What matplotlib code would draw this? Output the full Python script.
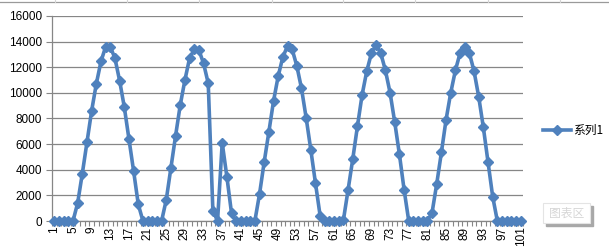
import matplotlib
matplotlib.use("Agg")
import matplotlib.pyplot as plt
from matplotlib.patches import Rectangle
from matplotlib.lines import Line2D

# series values, categories 1..101
values = [0, 0, 0, 0, 0, 1400, 3700, 6150, 8600, 10700,
          12450, 13600, 13600, 12700, 10950, 8900, 6400, 3900, 1300, 0,
          0, 0, 0, 0, 1650, 4150, 6650, 9050, 11000, 12700,
          13400, 13350, 12300, 10750, 800, 0, 6100, 3450, 600, 0,
          0, 0, 0, 0, 2100, 4600, 6950, 9350, 11300, 12800,
          13650, 13400, 12100, 10350, 8050, 5550, 2950, 400, 0, 0,
          0, 0, 100, 2450, 4850, 7400, 9850, 11700, 13100, 13750,
          13100, 11750, 10000, 7700, 5200, 2450, 0, 0, 0, 0,
          0, 650, 2900, 5350, 7900, 10000, 11750, 13100, 13600, 13100,
          11700, 9700, 7300, 4600, 1900, 0, 0, 0, 0, 0,
          0]
categories = list(range(1, len(values) + 1))
shown_labels = categories[::4]
y_ticks = list(range(0, 16001, 2000))
series_name = "系列1"

W, H = 609, 252
fig = plt.figure(figsize=(W / 100, H / 100), dpi=100)
ax = fig.add_axes([52 / W, 31 / H, 471 / W, 205 / H])

blue = "#4F81BD"
grid = "#868686"

ax.plot(categories, values, color=blue, lw=2.6, marker="D", ms=5,
        mec=blue, mfc=blue, clip_on=False, label=series_name, zorder=3)

ax.set_xlim(0.5, len(values) + 0.5)
ax.set_ylim(0, 16000)
ax.set_yticks(y_ticks)
ax.set_yticklabels([str(v) for v in y_ticks], fontsize=8.5, family="Liberation Sans")
ax.yaxis.grid(True, color=grid, lw=0.9)
ax.set_axisbelow(True)

ax.set_xticks(shown_labels)
ax.set_xticklabels([str(c) for c in shown_labels], rotation=90,
                   fontsize=8.5, family="Liberation Sans")
ax.set_xticks([c + 0.5 for c in range(0, len(values) + 1)], minor=True)
ax.tick_params(axis="x", which="major", length=0, pad=4)
ax.tick_params(axis="x", which="minor", length=3.5, color=grid, width=0.8)
ax.tick_params(axis="y", length=4, color=grid, width=0.8, pad=3)

for s in ["top", "right"]:
    ax.spines[s].set_visible(False)
ax.spines["left"].set_color(grid)
ax.spines["bottom"].set_color(grid)
ax.spines["left"].set_linewidth(0.9)
ax.spines["bottom"].set_linewidth(0.9)

tf = fig.transFigure

# legend on the right
fig.add_artist(Line2D([543 / W, 571 / W], [1 - 130 / H, 1 - 130 / H],
                      color=blue, lw=2.6, transform=tf))
fig.add_artist(Line2D([557 / W], [1 - 130 / H], color=blue, marker="D",
                      ms=5, lw=0, transform=tf))
fig.text(573 / W, 1 - 130 / H, series_name, fontsize=8.5, va="center",
         family=["Noto Sans CJK SC", "DejaVu Sans"])

# spreadsheet cell borders peeking above the chart
fig.add_artist(Line2D([0, 1], [1 - 2 / H, 1 - 2 / H], color="#9a9a9a", lw=0.9,
                      transform=tf))
for cx in [55, 127, 199, 272, 343, 415, 488, 560]:
    fig.add_artist(Line2D([cx / W, cx / W], [1, 1 - 2 / H], color="#d4d4d4",
                          lw=0.8, transform=tf))

# "chart area" tooltip
fig.add_artist(Rectangle((546 / W, 1 - 226 / H), 47 / W, 20 / H,
                         transform=tf, color="#a8a8a8", zorder=5))
fig.add_artist(Rectangle((543 / W, 1 - 223 / H), 47 / W, 20 / H,
                         transform=tf, fc="white", ec="#e4e4e4",
                         lw=0.8, zorder=6))
fig.text(566.5 / W, 1 - 213 / H, "图表区", fontsize=8.5, color="#d6d6d6",
         ha="center", va="center", zorder=7,
         family=["Noto Sans CJK SC", "DejaVu Sans"])

fig.savefig("out.png", dpi=100)
